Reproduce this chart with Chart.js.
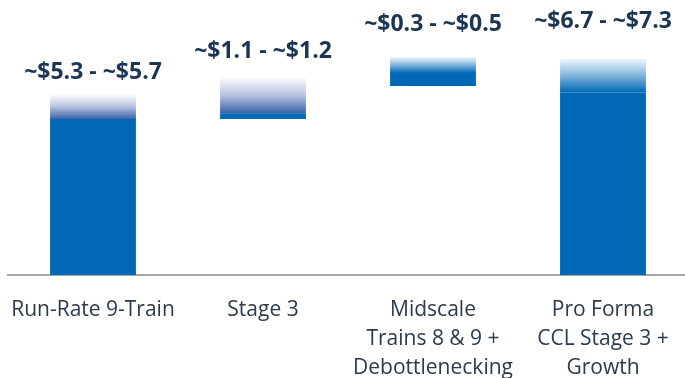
<!DOCTYPE html>
<html>
<head>
<meta charset="utf-8">
<script src="https://cdn.jsdelivr.net/npm/chart.js@4"></script>
<style>
  html, body { margin: 0; padding: 0; background: #ffffff; overflow: hidden; }
  #wrap { width: 690px; height: 378px; }
</style>
</head>
<body>
<div id="wrap"><canvas id="c" width="690" height="378"></canvas></div>
<script>
// Categories (multi-line tick labels)
const categories = [
  ['Run-Rate 9-Train'],
  ['Stage 3'],
  ['Midscale', 'Trains 8 & 9 +', 'Debottlenecking'],
  ['Pro Forma', 'CCL Stage 3 +', 'Growth']
];
// Range labels shown above each bar ($B)
const rangeLabels = ['~$5.3 - ~$5.7', '~$1.1 - ~$1.2', '~$0.3 - ~$0.5', '~$6.7 - ~$7.3'];
// Solid part of each bar: [low, high]
const solidLow  = [0,    5.3,  6.42, 0];
const solidHigh = [5.3,  5.5,  6.86, 6.2];
// Faded (range) part runs from solidHigh up to fadeHigh
const fadeHigh  = [6.15, 6.73, 7.41, 7.34];

// Styling
const BLUE = '#0068b4';
const fadeTopColor = ['rgba(255,255,255,1)', 'rgba(255,255,255,1)', '#eef7fc', '#eef7fc'];
const fadeMidColor = ['#b8c3df', '#b8c3df', '#7fb4dc', '#7fb4dc'];
const fadeEndColor = ['#3a62ab', '#3a62ab', BLUE, BLUE];
const labelLift = [15, 19, 26, 31];

const solidData = solidLow.map((v, i) => [v, solidHigh[i]]);
const fadeData = solidHigh.map((v, i) => [v, fadeHigh[i]]);

const rangeLabelPlugin = {
  id: 'rangeLabels',
  afterDatasetsDraw(chart) {
    const { ctx, scales } = chart;
    const meta = chart.getDatasetMeta(1);
    ctx.save();
    ctx.font = 'bold 23px "Open Sans", sans-serif';
    ctx.fillStyle = '#1c3553';
    ctx.textAlign = 'center';
    ctx.textBaseline = 'alphabetic';
    meta.data.forEach((bar, i) => {
      const y = scales.y.getPixelForValue(fadeHigh[i]) - labelLift[i];
      ctx.fillText(rangeLabels[i], bar.x, y);
    });
    ctx.restore();
  }
};

new Chart(document.getElementById('c'), {
  type: 'bar',
  data: {
    labels: categories,
    datasets: [
      {
        label: 'Solid',
        data: solidData,
        backgroundColor: BLUE,
        borderWidth: 0,
        grouped: false,
        barPercentage: 0.505,
        categoryPercentage: 1
      },
      {
        label: 'Range',
        data: fadeData,
        borderWidth: 0,
        grouped: false,
        barPercentage: 0.505,
        categoryPercentage: 1,
        backgroundColor: (c) => {
          const i = c.dataIndex;
          const chart = c.chart;
          if (i == null || !chart.chartArea) return fadeEndColor[i || 0];
          const y = chart.scales.y;
          const top = y.getPixelForValue(fadeHigh[i]);
          const bot = y.getPixelForValue(solidHigh[i]);
          const g = chart.ctx.createLinearGradient(0, top, 0, bot);
          g.addColorStop(0, fadeTopColor[i]);
          g.addColorStop(0.5, fadeMidColor[i]);
          g.addColorStop(1, fadeEndColor[i]);
          return g;
        }
      }
    ]
  },
  options: {
    responsive: false,
    animation: false,
    layout: { padding: { left: 8, right: 2, top: 0, bottom: 0 } },
    plugins: { legend: { display: false }, tooltip: { enabled: false } },
    scales: {
      x: {
        grid: { display: false, drawTicks: false },
        border: { display: true, color: '#a6a6a6', width: 2 },
        ticks: {
          color: '#2d3a4b',
          font: { family: '"Open Sans", sans-serif', size: 21, lineHeight: 1.4 },
          padding: 20,
          maxRotation: 0,
          autoSkip: false
        },
        afterFit(scale) {
          scale.height = 103;
          scale.paddingLeft = 0;
          scale.paddingRight = 0;
        }
      },
      y: {
        display: false,
        min: 0,
        max: 9.344
      }
    }
  },
  plugins: [rangeLabelPlugin]
});
</script>
</body>
</html>
